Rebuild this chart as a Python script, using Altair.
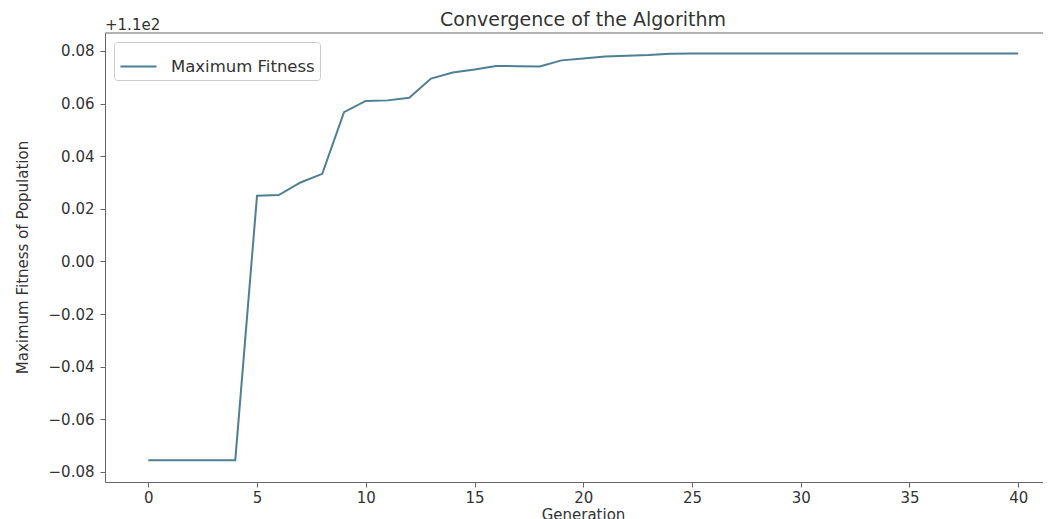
import altair as alt
import pandas as pd

# Values (offset from 1.1e2)
generation = list(range(41))
max_fitness = [
    -0.0755, -0.0755, -0.0755, -0.0755, -0.0755,
    0.0250, 0.0252, 0.0300, 0.0333, 0.0567,
    0.0610, 0.0612, 0.0622, 0.0695, 0.0718,
    0.0729, 0.0743, 0.0742, 0.0741, 0.0764,
    0.0771, 0.0779, 0.0782, 0.0784, 0.0789,
    0.0790, 0.0790, 0.0790, 0.0790, 0.0790,
    0.0790, 0.0790, 0.0790, 0.0790, 0.0790,
    0.0790, 0.0790, 0.0790, 0.0790, 0.0790,
    0.0790,
]
series_name = "Maximum Fitness"
x_ticks = [0, 5, 10, 15, 20, 25, 30, 35, 40]
y_ticks = [-0.08, -0.06, -0.04, -0.02, 0.0, 0.02, 0.04, 0.06, 0.08]
offset_label = ["+1.1e2"]
title_text = ["Convergence of the Algorithm"]

df = pd.DataFrame({
    "Generation": generation,
    "Fitness": max_fitness,
    "Series": [series_name] * len(generation),
})

FONT = "DejaVu Sans"
W, H = 938, 449

line = alt.Chart(df).mark_line(strokeWidth=2, clip=True).encode(
    x=alt.X(
        "Generation:Q",
        scale=alt.Scale(domain=[-1.99, 41.14], nice=False, zero=False),
        axis=alt.Axis(
            values=x_ticks, title="Generation", format="d",
            titleX=478, titleY=25, titleBaseline="top", titleAlign="center",
        ),
    ),
    y=alt.Y(
        "Fitness:Q",
        scale=alt.Scale(domain=[-0.0838, 0.0868], nice=False, zero=False),
        axis=alt.Axis(
            values=y_ticks, title="Maximum Fitness of Population",
            labelExpr="replace(format(datum.value, '.2f'), '-', '\u2212')",
            titleX=-83, titleY=224, titleAlign="center", titleBaseline="middle",
            titleAngle=270,
        ),
    ),
    color=alt.Color(
        "Series:N",
        scale=alt.Scale(range=["#4f7f93"]),
        legend=alt.Legend(
            title=None, orient="none", legendX=9, legendY=9,
            symbolType="M-1,0L1,0", symbolSize=1300, symbolStrokeWidth=2,
            symbolFillColor="transparent",
            labelFontSize=16.5, labelFont=FONT, labelColor="#333",
            labelOffset=13, padding=5,
            strokeColor="#cccccc", fillColor="white", cornerRadius=3,
        ),
    ),
)

frame_top = alt.Chart(pd.DataFrame({"a": [0]})).mark_rule(
    color="#666", strokeWidth=1
).encode(x=alt.value(0), x2=alt.value(W), y=alt.value(0))

offset_text = alt.Chart(pd.DataFrame({"t": offset_label})).mark_text(
    align="left", baseline="middle", fontSize=15, font=FONT, color="#333"
).encode(x=alt.value(0), y=alt.value(-8), text="t:N")

title_mark = alt.Chart(pd.DataFrame({"t": title_text})).mark_text(
    align="center", baseline="middle", fontSize=19, font=FONT, color="#333"
).encode(x=alt.value(478), y=alt.value(-13), text="t:N")

chart = alt.layer(line, frame_top, offset_text, title_mark).properties(
    width=W,
    height=H,
    padding={"left": 97, "top": 25, "right": 0, "bottom": 37},
    autosize=alt.AutoSizeParams(type="none"),
).configure_view(stroke=None).configure_axis(
    grid=False,
    domainColor="#666", tickColor="#666", tickSize=5,
    labelFont=FONT, labelFontSize=15, labelColor="#333",
    titleFont=FONT, titleFontSize=15, titleColor="#333", titleFontWeight="normal",
).configure_axisY(labelPadding=6).configure_axisX(labelPadding=3)

chart.save("out.html", embed_options={"renderer": "svg", "actions": False})
